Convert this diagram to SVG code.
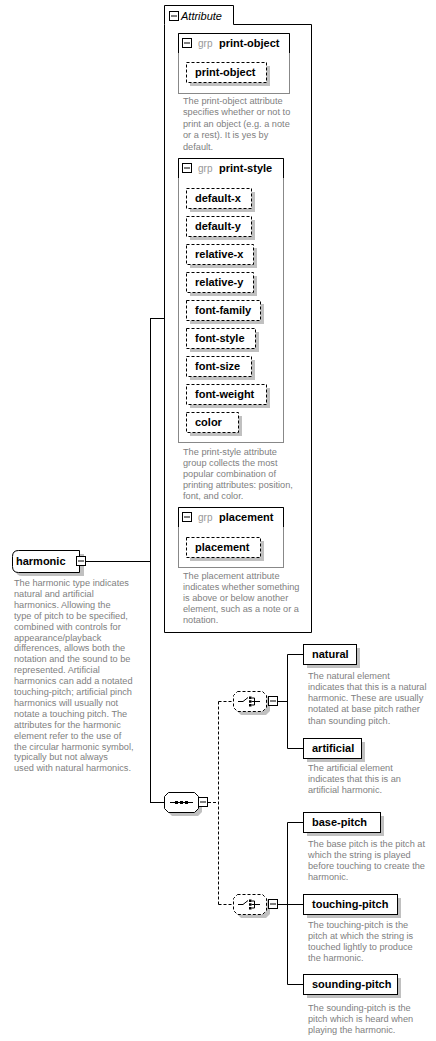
<svg xmlns="http://www.w3.org/2000/svg" width="436" height="1041" viewBox="0 0 436 1041">
<style>
.desc{font-family:"Liberation Sans",Arial,sans-serif;font-size:9.2px;fill:#808080}
.lbl{font-family:"Liberation Sans",Arial,sans-serif;font-size:11px;font-weight:bold;fill:#000}
.grp{font-family:"Liberation Sans",Arial,sans-serif;font-size:10px;fill:#999}
.ital{font-family:"Liberation Sans",Arial,sans-serif;font-size:11px;font-style:italic;fill:#000}
.sh{fill:#c0c0c0;stroke:none}
.attr{fill:#fff;stroke:#000;stroke-dasharray:3,2}
.el{fill:#fff;stroke:#000}
.ln{stroke:#000;fill:none}
.dl{stroke:#000;fill:none;stroke-dasharray:3,2}
.gbox{fill:#fff;stroke:#888}
.mbox{fill:#fff;stroke:#000}
.dot{fill:#000}
</style>
<defs>
<g id="minus"><rect class="mbox" x="0.5" y="0.5" width="9" height="9"/><line class="ln" x1="2" y1="5" x2="8" y2="5"/></g>
<g id="choiceIcon">
<path class="ln" d="M5,0 H10 L15,-4"/>
<rect class="dot" x="16" y="-5" width="2.5" height="2.5"/>
<rect class="dot" x="16" y="-1.25" width="2.5" height="2.5"/>
<rect class="dot" x="16" y="2.5" width="2.5" height="2.5"/>
<path class="ln" d="M18.5,-3.5 H21.5 V3.5 H18.5 M18.5,0 H21.5 M21.5,0 H27"/>
</g>
</defs>

<g id="connectors">
<line class="ln" x1="86" y1="561.5" x2="150.5" y2="561.5"/>
<line class="ln" x1="150.5" y1="318.5" x2="150.5" y2="802.5"/>
<line class="ln" x1="150" y1="318.5" x2="164" y2="318.5"/>
<line class="ln" x1="150" y1="802.5" x2="164" y2="802.5"/>
<line class="dl" x1="208" y1="802.5" x2="218.5" y2="802.5"/>
<line class="dl" x1="218.5" y1="701.5" x2="218.5" y2="904.5"/>
<line class="dl" x1="218.5" y1="701.5" x2="233" y2="701.5"/>
<line class="dl" x1="218.5" y1="904.5" x2="233" y2="904.5"/>
<line class="ln" x1="278" y1="701.5" x2="287.5" y2="701.5"/>
<path class="ln" d="M303,654.5 H287.5 V748.5 H303"/>
<line class="ln" x1="278" y1="904.5" x2="303" y2="904.5"/>
<path class="ln" d="M303,822.5 H287.5 V984.5 H303"/>
</g>

<g id="attributes">
<path class="el" d="M164.5,24.5 V5.5 H233.5 V24.5 H311.5 V632.5 H164.5 Z"/>
<use href="#minus" x="169" y="11"/>
<text class="ital" x="181" y="20">Attribute</text>
</g>

<g id="grp-print-object">
<rect class="gbox" x="178.5" y="33.5" width="111" height="60"/>
<path class="ln" d="M178.5,53 V33.5 H289.5 V53"/>
<use href="#minus" x="182" y="38"/>
<text class="grp" x="198" y="47">grp</text>
<text class="lbl" x="219" y="47">print-object</text>
<rect class="sh" x="190" y="66" width="80" height="20"/>
<rect class="attr" x="186.5" y="62.5" width="80" height="20"/>
<text class="lbl" x="195" y="76">print-object</text>
<text class="desc"><tspan x="183" y="103.5">The print-object attribute</tspan><tspan x="183" y="115">specifies whether or not to</tspan><tspan x="183" y="126.5">print an object (e.g. a note</tspan><tspan x="183" y="138">or a rest). It is yes by</tspan><tspan x="183" y="149.5">default.</tspan></text>
</g>

<g id="grp-print-style">
<rect class="gbox" x="178.5" y="158.5" width="105" height="284"/>
<path class="ln" d="M178.5,178 V158.5 H283.5 V178"/>
<use href="#minus" x="182" y="163"/>
<text class="grp" x="198" y="172">grp</text>
<text class="lbl" x="219" y="172">print-style</text>
<rect class="sh" x="190" y="192" width="65" height="20"/><rect class="attr" x="186.5" y="188.5" width="65" height="20"/><text class="lbl" x="195" y="202">default-x</text>
<rect class="sh" x="190" y="220" width="65" height="20"/><rect class="attr" x="186.5" y="216.5" width="65" height="20"/><text class="lbl" x="195" y="230">default-y</text>
<rect class="sh" x="190" y="248" width="67" height="20"/><rect class="attr" x="186.5" y="244.5" width="67" height="20"/><text class="lbl" x="195" y="258">relative-x</text>
<rect class="sh" x="190" y="276" width="67" height="20"/><rect class="attr" x="186.5" y="272.5" width="67" height="20"/><text class="lbl" x="195" y="286">relative-y</text>
<rect class="sh" x="190" y="304" width="74" height="20"/><rect class="attr" x="186.5" y="300.5" width="74" height="20"/><text class="lbl" x="195" y="314">font-family</text>
<rect class="sh" x="190" y="332" width="69" height="20"/><rect class="attr" x="186.5" y="328.5" width="69" height="20"/><text class="lbl" x="195" y="342">font-style</text>
<rect class="sh" x="190" y="360" width="65" height="20"/><rect class="attr" x="186.5" y="356.5" width="65" height="20"/><text class="lbl" x="195" y="370">font-size</text>
<rect class="sh" x="190" y="388" width="80" height="20"/><rect class="attr" x="186.5" y="384.5" width="80" height="20"/><text class="lbl" x="195" y="398">font-weight</text>
<rect class="sh" x="190" y="416" width="52" height="20"/><rect class="attr" x="186.5" y="412.5" width="52" height="20"/><text class="lbl" x="195" y="426">color</text>
<text class="desc"><tspan x="183" y="454.5">The print-style attribute</tspan><tspan x="183" y="465.5">group collects the most</tspan><tspan x="183" y="476.5">popular combination of</tspan><tspan x="183" y="487.5">printing attributes: position,</tspan><tspan x="183" y="498.5">font, and color.</tspan></text>
</g>

<g id="grp-placement">
<rect class="gbox" x="178.5" y="507.5" width="105" height="60"/>
<path class="ln" d="M178.5,527 V507.5 H283.5 V527"/>
<use href="#minus" x="182" y="512"/>
<text class="grp" x="198" y="521">grp</text>
<text class="lbl" x="219" y="521">placement</text>
<rect class="sh" x="190" y="541" width="74" height="20"/><rect class="attr" x="186.5" y="537.5" width="74" height="20"/><text class="lbl" x="195" y="551">placement</text>
<text class="desc"><tspan x="183" y="578.5">The placement attribute</tspan><tspan x="183" y="589.5">indicates whether something</tspan><tspan x="183" y="600.5">is above or below another</tspan><tspan x="183" y="611.5">element, such as a note or a</tspan><tspan x="183" y="622.5">notation.</tspan></text>
</g>

<g id="harmonic">
<path class="sh" d="M22,554 H84 V576 H22 Q16,576 16,570 V560 Q16,554 22,554 Z"/>
<path class="el" d="M18.5,550.5 H79.5 V572.5 H18.5 Q12.5,572.5 12.5,566.5 V556.5 Q12.5,550.5 18.5,550.5 Z"/>
<text class="lbl" x="16" y="565">harmonic</text>
<use href="#minus" x="76" y="556"/>
<text class="desc"><tspan x="14" y="586">The harmonic type indicates</tspan><tspan x="14" y="596.9">natural and artificial</tspan><tspan x="14" y="607.8">harmonics. Allowing the</tspan><tspan x="14" y="618.7">type of pitch to be specified,</tspan><tspan x="14" y="629.6">combined with controls for</tspan><tspan x="14" y="640.5">appearance/playback</tspan><tspan x="14" y="651.4">differences, allows both the</tspan><tspan x="14" y="662.3">notation and the sound to be</tspan><tspan x="14" y="673.2">represented. Artificial</tspan><tspan x="14" y="684.1">harmonics can add a notated</tspan><tspan x="14" y="695">touching-pitch; artificial pinch</tspan><tspan x="14" y="705.9">harmonics will usually not</tspan><tspan x="14" y="716.8">notate a touching pitch. The</tspan><tspan x="14" y="727.7">attributes for the harmonic</tspan><tspan x="14" y="738.6">element refer to the use of</tspan><tspan x="14" y="749.5">the circular harmonic symbol,</tspan><tspan x="14" y="760.4">typically but not always</tspan><tspan x="14" y="771.3">used with natural harmonics.</tspan></text>
</g>

<g id="sequence">
<path class="sh" d="M172,796 H198 L202,800 V812 L198,816 H172 L168,812 V800 Z"/>
<path class="el" d="M168.5,792.5 H194.5 L198.5,796.5 V808.5 L194.5,812.5 H168.5 L164.5,808.5 V796.5 Z"/>
<line class="ln" x1="170" y1="802.5" x2="193" y2="802.5"/>
<rect class="dot" x="175" y="801" width="3" height="3"/><rect class="dot" x="180" y="801" width="3" height="3"/><rect class="dot" x="185" y="801" width="3" height="3"/>
<use href="#minus" x="198" y="797"/>
</g>

<g id="choice1">
<path class="sh" d="M241,695 H266 L270,699 V711 L266,715 H241 L237,711 V699 Z"/>
<path class="attr" d="M237.5,691.5 H262.5 L266.5,695.5 V707.5 L262.5,711.5 H237.5 L233.5,707.5 V695.5 Z"/>
<use href="#choiceIcon" x="233" y="701.5"/>
<use href="#minus" x="268" y="696"/>
</g>

<g id="choice2">
<path class="sh" d="M241,898 H266 L270,902 V914 L266,918 H241 L237,914 V902 Z"/>
<path class="attr" d="M237.5,894.5 H262.5 L266.5,898.5 V910.5 L262.5,914.5 H237.5 L233.5,910.5 V898.5 Z"/>
<use href="#choiceIcon" x="233" y="904.5"/>
<use href="#minus" x="268" y="899"/>
</g>

<g id="natural">
<rect class="sh" x="307" y="648" width="53" height="20"/>
<rect class="el" x="303.5" y="644.5" width="53" height="20"/>
<text class="lbl" x="312" y="658">natural</text>
<text class="desc"><tspan x="308" y="678.5">The natural element</tspan><tspan x="308" y="689.8">indicates that this is a natural</tspan><tspan x="308" y="701.1">harmonic. These are usually</tspan><tspan x="308" y="712.4">notated at base pitch rather</tspan><tspan x="308" y="723.7">than sounding pitch.</tspan></text>
</g>

<g id="artificial">
<rect class="sh" x="307" y="742" width="58" height="20"/>
<rect class="el" x="303.5" y="738.5" width="58" height="20"/>
<text class="lbl" x="312" y="752">artificial</text>
<text class="desc"><tspan x="308" y="770.5">The artificial element</tspan><tspan x="308" y="781.6">indicates that this is an</tspan><tspan x="308" y="792.7">artificial harmonic.</tspan></text>
</g>

<g id="base-pitch">
<rect class="sh" x="307" y="816" width="77" height="20"/>
<rect class="el" x="303.5" y="812.5" width="77" height="20"/>
<text class="lbl" x="312" y="826">base-pitch</text>
<text class="desc"><tspan x="308" y="846.5">The base pitch is the pitch at</tspan><tspan x="308" y="857.6">which the string is played</tspan><tspan x="308" y="868.7">before touching to create the</tspan><tspan x="308" y="879.8">harmonic.</tspan></text>
</g>

<g id="touching-pitch">
<rect class="sh" x="307" y="898" width="94" height="20"/>
<rect class="el" x="303.5" y="894.5" width="94" height="20"/>
<text class="lbl" x="312" y="908">touching-pitch</text>
<text class="desc"><tspan x="308" y="927.5">The touching-pitch is the</tspan><tspan x="308" y="938.8">pitch at which the string is</tspan><tspan x="308" y="950.1">touched lightly to produce</tspan><tspan x="308" y="961.4">the harmonic.</tspan></text>
</g>

<g id="sounding-pitch">
<rect class="sh" x="307" y="978" width="94" height="20"/>
<rect class="el" x="303.5" y="974.5" width="94" height="20"/>
<text class="lbl" x="312" y="988">sounding-pitch</text>
<text class="desc"><tspan x="308" y="1010.5">The sounding-pitch is the</tspan><tspan x="308" y="1021.8">pitch which is heard when</tspan><tspan x="308" y="1033.1">playing the harmonic.</tspan></text>
</g>
</svg>
